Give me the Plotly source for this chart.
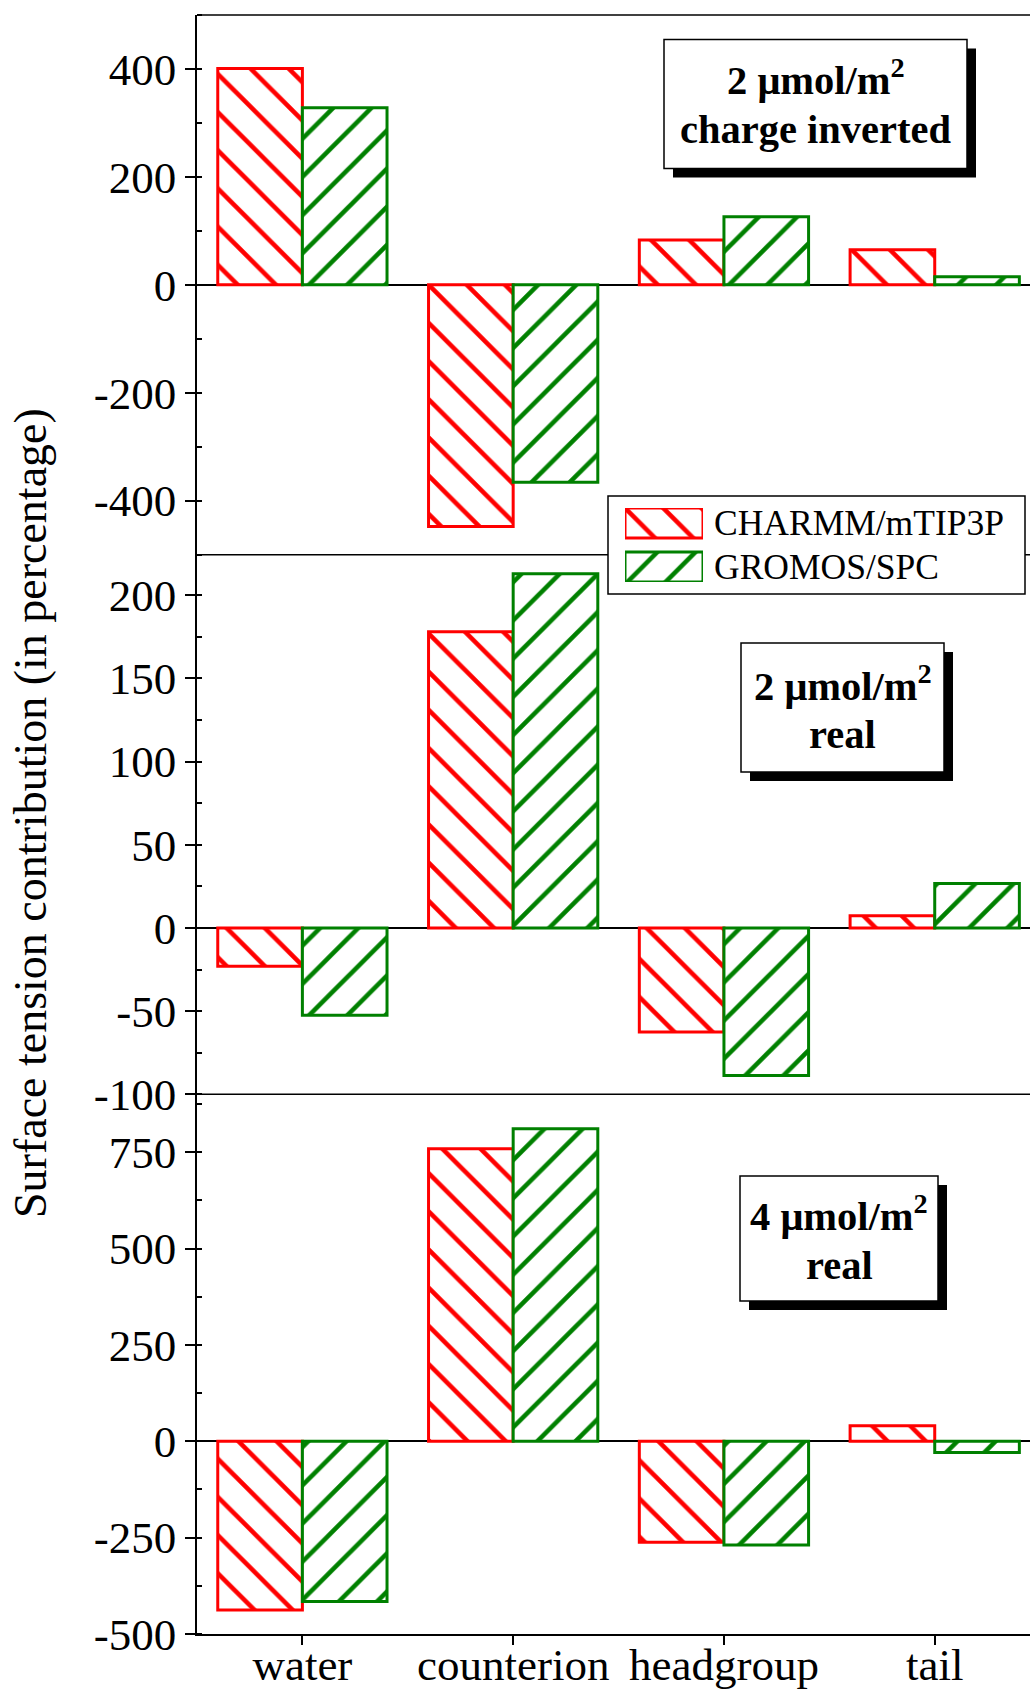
import plotly.graph_objects as go

# ---------------- data ----------------
categories = ["water", "counterion", "headgroup", "tail"]
series_names = ["CHARMM/mTIP3P", "GROMOS/SPC"]

# panel 1: 2 umol/m2, charge inverted
charmm_inv = [401, -448, 83, 65]
gromos_inv = [328, -366, 126, 15]
# panel 2: 2 umol/m2, real
charmm_2 = [-23, 178, -62.5, 7.4]
gromos_2 = [-52.4, 213, -88.7, 26.8]
# panel 3: 4 umol/m2, real
charmm_4 = [-438, 759, -262, 40]
gromos_4 = [-416, 811, -269, -29]

# tick values / labels (hyphen minus as in the original)
p1_tickvals = [-400, -200, 0, 200, 400]
p1_ticktext = ["-400", "-200", "0", "200", "400"]
p2_tickvals = [-100, -50, 0, 50, 100, 150, 200]
p2_ticktext = ["-100", "-50", "0", "50", "100", "150", "200"]
p3_tickvals = [-500, -250, 0, 250, 500, 750]
p3_ticktext = ["-500", "-250", "0", "250", "500", "750"]

panel_labels = [
    ("<b>2 \u03bcmol/m<sup>2</sup></b>", "<b>charge inverted</b>"),
    ("<b>2 \u03bcmol/m<sup>2</sup></b>", "<b>real</b>"),
    ("<b>4 \u03bcmol/m<sup>2</sup></b>", "<b>real</b>"),
]
y_title = "Surface tension contribution (in percentage)"
legend_swatch = [1, 1]

# ---------------- style ----------------
RED = "#FF0000"
GREEN = "#008000"
FONT = "Liberation Serif"
PAT_SIZE = 27
PAT_SOL = 0.17

W_FIG, H_FIG = 1030, 1689
L, R, T, B = 197, 1030, 15, 1634
PW, PH = R - L, B - T


def px(x):
    return (x - L) / PW


def py(y):
    return (B - y) / PH


fig = go.Figure()

panels = [
    (charmm_inv, gromos_inv, "x", "y"),
    (charmm_2, gromos_2, "x2", "y2"),
    (charmm_4, gromos_4, "x3", "y3"),
]
for cvals, gvals, xa, ya in panels:
    for vals, col, shp, name in ((cvals, RED, "\\", series_names[0]),
                                 (gvals, GREEN, "/", series_names[1])):
        fig.add_trace(go.Bar(
            x=categories, y=vals, name=name, xaxis=xa, yaxis=ya,
            showlegend=False, cliponaxis=False,
            marker=dict(color="white",
                        line=dict(color=col, width=3),
                        pattern=dict(shape=shp, fgcolor=col, bgcolor="white",
                                     size=PAT_SIZE, solidity=PAT_SOL,
                                     fillmode="replace")),
        ))

# legend swatches (drawn as bars on a hidden helper axis)
fig.add_trace(go.Bar(
    x=legend_swatch, y=series_names, orientation="h", width=0.682,
    xaxis="x4", yaxis="y4", showlegend=False, cliponaxis=False,
    marker=dict(color="white",
                line=dict(color=[RED, GREEN], width=3),
                pattern=dict(shape=["\\", "/"], fgcolor=[RED, GREEN],
                             bgcolor="white", size=PAT_SIZE, solidity=PAT_SOL,
                             fillmode="replace")),
))

tickfont = dict(family=FONT, size=45, color="black")


def yax(domain, rng, tv, tt, minor_dtick, anchor):
    return dict(domain=domain, range=rng, anchor=anchor, automargin=False,
                tickmode="array", tickvals=tv, ticktext=tt,
                ticks="outside", ticklen=10, tickwidth=1.5, tickcolor="black",
                showline=True, linewidth=1.5, linecolor="black",
                showgrid=False, zeroline=True, zerolinecolor="black",
                zerolinewidth=1.5, tickfont=tickfont,
                minor=dict(ticks="inside", ticklen=5, tickwidth=1.5,
                           tickcolor="black", tickmode="linear", tick0=0,
                           dtick=minor_dtick, showgrid=False))


def xax(anchor, labels):
    d = dict(anchor=anchor, domain=[0, 1], type="category", automargin=False,
             range=[-0.5, 3.452], showgrid=False, zeroline=False,
             showline=False)
    if labels:
        d.update(showline=True, linewidth=1.5, linecolor="black",
                 ticks="outside", ticklen=9, tickwidth=1.5, tickcolor="black",
                 tickfont=tickfont, showticklabels=True,
                 ticklabelstandoff=-19)
    else:
        d.update(ticks="", showticklabels=False)
    return d


third = 1 / 3
shapes = []
# frame lines (top + panel boundaries)
for yy in (1.0, 2 * third, third):
    shapes.append(dict(type="line", xref="paper", yref="paper",
                       x0=0, x1=1, y0=yy, y1=yy, layer="below",
                       line=dict(color="black", width=1.5)))

# legend box
shapes.append(dict(type="rect", xref="paper", yref="paper", layer="below",
                   x0=px(608), x1=px(1025), y0=py(594), y1=py(496),
                   fillcolor="white", line=dict(color="black", width=1.5)))

# label boxes with shadows: (x0, x1, y0, y1, line1_y, line2_y)
boxes = [(664, 967, 39.5, 168.5, 77, 130), (741, 944, 643, 772, 683, 734),
         (740, 938, 1176, 1301, 1213, 1265)]
annotations = []
for (x0, x1, y0, y1, ty1, ty2), (t1, t2) in zip(boxes, panel_labels):
    shapes.append(dict(type="rect", xref="paper", yref="paper", layer="below",
                       x0=px(x0 + 9), x1=px(x1 + 9), y0=py(y1 + 9),
                       y1=py(y0 + 9), fillcolor="black",
                       line=dict(width=0)))
    shapes.append(dict(type="rect", xref="paper", yref="paper", layer="below",
                       x0=px(x0), x1=px(x1), y0=py(y1), y1=py(y0),
                       fillcolor="white", line=dict(color="black", width=1.5)))
    for txt, ty in ((t1, ty1), (t2, ty2)):
        annotations.append(dict(xref="paper", yref="paper",
                                x=px((x0 + x1) / 2), y=py(ty),
                                xanchor="center", yanchor="middle",
                                text=txt, showarrow=False, align="center",
                                font=dict(family=FONT, size=40.5,
                                          color="black")))

# legend labels
for name, yc in zip(series_names, (523, 567)):
    annotations.append(dict(xref="paper", yref="paper", x=px(712), y=py(yc),
                            xanchor="left", yanchor="middle", text=name,
                            showarrow=False,
                            font=dict(family=FONT, size=35.5, color="black")))

# y title
annotations.append(dict(xref="paper", yref="paper", x=px(31), y=py(813),
                        xanchor="center", yanchor="middle", text=y_title,
                        textangle=-90, showarrow=False,
                        font=dict(family=FONT, size=46, color="black")))

fig.update_layout(
    width=W_FIG, height=H_FIG,
    margin=dict(l=L, r=W_FIG - R, t=T, b=H_FIG - B, pad=0,
                autoexpand=False),
    paper_bgcolor="white", plot_bgcolor="rgba(0,0,0,0)",
    barmode="group", bargap=0.197, bargroupgap=0,
    showlegend=False, hovermode=False,
    font=dict(family=FONT, color="black"),
    xaxis=xax("y", False),
    xaxis2=xax("y2", False),
    xaxis3=xax("y3", True),
    yaxis=yax([2 * third, 1], [-500, 500], p1_tickvals, p1_ticktext, 100, "x"),
    yaxis2=yax([third, 2 * third], [-100, 224.4], p2_tickvals, p2_ticktext,
               25, "x2"),
    yaxis3=yax([0, third], [-500, 900], p3_tickvals, p3_ticktext, 125, "x3"),
    xaxis4=dict(domain=[px(625), px(703)], range=[0, 1], visible=False,
                anchor="y4", automargin=False),
    yaxis4=dict(domain=[py(582), py(508)], range=[1.341, -0.341],
                type="category", visible=False, anchor="x4",
                automargin=False),
    shapes=shapes,
    annotations=annotations,
)

fig.write_html(
    "out.html",
    config={"displayModeBar": False},
    post_script="document.body.style.margin='0px';"
                "document.body.style.padding='0px';",
)
